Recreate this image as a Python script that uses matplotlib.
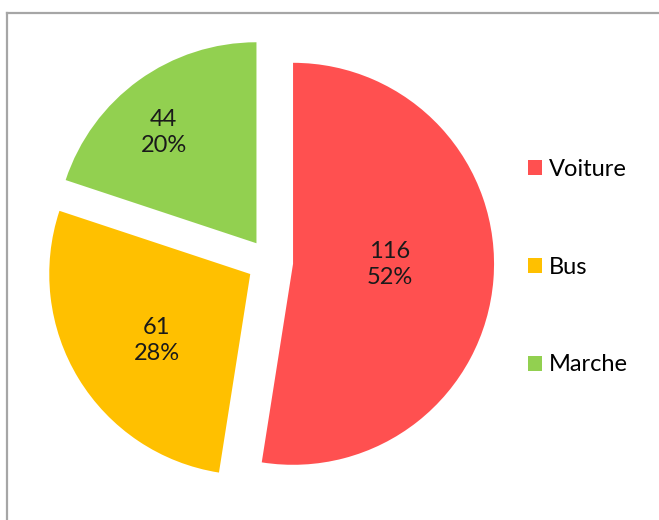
import numpy as np
import matplotlib.pyplot as plt
from matplotlib.patches import Patch
from matplotlib.lines import Line2D

# Mode de transport
labels = ["Voiture", "Bus", "Marche"]
counts = [116, 61, 44]
colors = ["#FF5050", "#FFC000", "#92D050"]
# how far each value label sits from its slice apex (fraction of radius)
label_dist = [0.48, 0.57, 0.72]

plt.rcParams['font.family'] = ['Lato', 'DejaVu Sans']

W, H = 659, 520
fig = plt.figure(figsize=(W / 100, H / 100), dpi=100)
ax = fig.add_axes([0, 0, 1, 1])

# pie centre and radius in pixels
cx, cy, rad = 270, 262, 201

explode = 0.115
wedges, _ = ax.pie(counts, colors=colors, startangle=90, counterclock=False,
                   explode=[explode] * len(counts), radius=1,
                   wedgeprops=dict(linewidth=0))
ax.set_xlim(-cx / rad, (W - cx) / rad)
ax.set_ylim(-(H - cy) / rad, cy / rad)
ax.set_aspect('auto')
ax.axis('off')

total = sum(counts)
for w, n, d in zip(wedges, counts, label_dist):
    mid = np.deg2rad((w.theta1 + w.theta2) / 2 + 4)
    x0, y0 = w.center
    pct = round(100 * n / total)
    ax.text(x0 + d * np.cos(mid), y0 + d * np.sin(mid), "{}\n{}%".format(n, pct),
            ha='center', va='center', fontsize=17, color='#1a1a1a',
            linespacing=1.3)

handles = [Patch(facecolor=c, edgecolor='none') for c in colors]
fig.legend(handles, labels, loc='center left', bbox_to_anchor=(516 / W, 1 - 267 / H),
           frameon=False, fontsize=17, handlelength=0.6, handleheight=0.6,
           handletextpad=0.3, labelspacing=3.26, borderpad=0)

# chart area border (left and top edges)
bx, by = 6.5 / W, 1 - 13 / H
fig.add_artist(Line2D([bx, bx], [0, by], color='#A6A6A6', lw=1.6))
fig.add_artist(Line2D([bx, 1], [by, by], color='#A6A6A6', lw=1.6))

fig.savefig("out.png", dpi=100)
